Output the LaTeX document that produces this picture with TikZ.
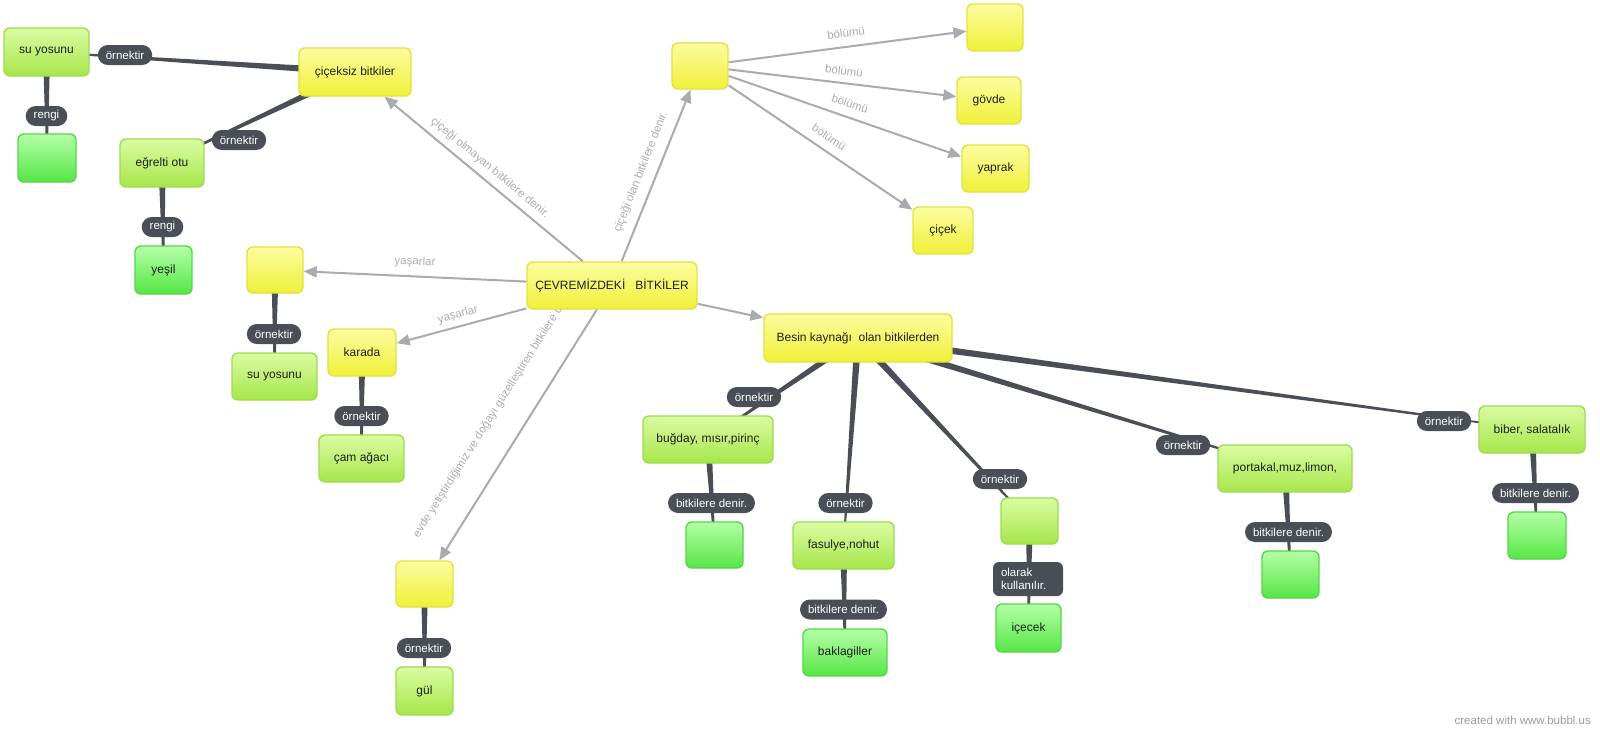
\documentclass[tikz,border=0pt]{standalone}
\usepackage{fontspec}
\setmainfont{Liberation Sans}
\usetikzlibrary{calc,arrows.meta}
\pgfdeclarelayer{bg}
\pgfdeclarelayer{paper}
\pgfsetlayers{paper,bg,main}
\definecolor{linkc}{HTML}{4A4E57}
\definecolor{arrowc}{HTML}{A9ABB1}
\definecolor{lblc}{HTML}{ABADB3}
\definecolor{yelT}{HTML}{FCFCA0}
\definecolor{yelM}{HTML}{F8F870}
\definecolor{yelB}{HTML}{F0F038}
\definecolor{yelD}{HTML}{E2E245}
\definecolor{lgT}{HTML}{DAFCA2}
\definecolor{lgM}{HTML}{C4F47A}
\definecolor{lgB}{HTML}{A6E64A}
\definecolor{lgD}{HTML}{9EDC50}
\definecolor{bgT}{HTML}{B4FFA6}
\definecolor{bgM}{HTML}{86F474}
\definecolor{bgB}{HTML}{56E646}
\definecolor{bgD}{HTML}{56D648}
\definecolor{credc}{HTML}{9A9CA2}
\newcommand\bxfont{\fontsize{12}{14}\selectfont}
\newcommand\plfont{\fontsize{11.5}{13}\selectfont}
\newcommand\lbfont{\fontsize{11.5}{13}\selectfont}
\newcommand\taper[2]{\fill[linkc] ($(#1.center)!3.6pt!90:(#2.center)$) -- ($(#1.center)!3.6pt!-90:(#2.center)$) -- ($(#2.center)!0.7pt!90:(#1.center)$) -- ($(#2.center)!0.7pt!-90:(#1.center)$) -- cycle;}
\tikzset{
  box/.style={rounded corners=6pt, line width=1.4pt, inner sep=0pt, align=center, font=\bxfont, text=black!88},
  sz/.style 2 args={minimum width=#1pt, minimum height=#2pt},
  ybox/.style={box, draw=yelD, top color=yelT, middle color=yelM, bottom color=yelB},
  lgbox/.style={box, draw=lgD, top color=lgT, middle color=lgM, bottom color=lgB},
  gbox/.style={box, draw=bgD, top color=bgT, middle color=bgM, bottom color=bgB},
  pill/.style={fill=linkc, text=white, rounded corners=10pt, minimum height=20pt, inner xsep=8pt, inner ysep=0pt, font=\plfont},
  garrow/.style={draw=arrowc, line width=2pt, -{Triangle[length=13pt,width=11pt]}},
  glabel/.style={text=lblc, font=\lbfont, inner sep=1pt}
}
\begin{document}
\begin{tikzpicture}[x=1pt,y=-1pt]
\useasboundingbox (0,0) rectangle (1600,750);
\begin{pgfonlayer}{paper}
\fill[white] (0,0) rectangle (1600,750);
\end{pgfonlayer}

% yellow nodes
\node[ybox, sz={112}{48}] (ciceksiz) at (355,72) {çiçeksiz bitkiler};
\node[ybox, sz={56}{46}] (yL) at (275,270) {};
\node[ybox, sz={68}{47}] (karada) at (362,352.5) {karada};
\node[ybox, sz={170}{47}] (central) at (612,285.5) {ÇEVREMİZDEKİ\ \ \ BİTKİLER};
\node[ybox, sz={57}{46}] (yG) at (424.5,584) {};
\node[ybox, sz={56}{46}] (topY) at (700,66) {};
\node[ybox, sz={56}{47}] (topR) at (995,27.5) {};
\node[ybox, sz={64}{47}] (govde) at (989,100.5) {gövde};
\node[ybox, sz={67}{47}] (yaprak) at (995.5,168.5) {yaprak};
\node[ybox, sz={60}{47}] (cicek) at (943,230.5) {çiçek};
\node[ybox, sz={188}{48}] (besin) at (858,338) {Besin kaynağı\ \ olan bitkilerden};

% light green nodes
\node[lgbox, sz={85}{48}] (suyos1) at (46.5,52) {su yosunu};
\node[lgbox, sz={84}{48}] (egrelti) at (162,163) {eğrelti otu};
\node[lgbox, sz={85}{47}] (suyos2) at (274.5,376.5) {su yosunu};
\node[lgbox, sz={85}{47}] (cam) at (361.5,458.5) {çam ağacı};
\node[lgbox, sz={57}{48}] (gul) at (424.5,691) {gül};
\node[lgbox, sz={130}{47}] (bugday) at (708,439.5) {buğday, mısır,pirinç};
\node[lgbox, sz={101}{47}] (fasulye) at (843.5,545.5) {fasulye,nohut};
\node[lgbox, sz={57}{46}] (lg3) at (1029.5,521) {};
\node[lgbox, sz={134}{47}] (portakal) at (1285,468.5) {portakal,muz,limon,};
\node[lgbox, sz={106}{47}] (biber) at (1532,429.5) {biber, salatalık};

% bright green nodes
\node[gbox, sz={58}{48}] (g1) at (47,158) {};
\node[gbox, sz={57}{48}] (yesil) at (163.5,270) {yeşil};
\node[gbox, sz={57}{46}] (g2) at (714.5,545) {};
\node[gbox, sz={84}{47}] (bakla) at (845,652.5) {baklagiller};
\node[gbox, sz={65}{48}] (icecek) at (1028.5,628) {içecek};
\node[gbox, sz={57}{47}] (g4) at (1290.5,574.5) {};
\node[gbox, sz={58}{47}] (g5) at (1537,535.5) {};

% link pills
\node[pill] (p1) at (125,55) {örnektir};
\node[pill] (p2) at (239,140) {örnektir};
\node[pill] (r1) at (46.5,116) {rengi};
\node[pill] (r2) at (162.5,227) {rengi};
\node[pill] (p3) at (274,334) {örnektir};
\node[pill] (p4) at (361.5,416) {örnektir};
\node[pill] (p5) at (424,648) {örnektir};
\node[pill] (p6) at (754,397) {örnektir};
\node[pill] (b1) at (711.5,503) {bitkilere denir.};
\node[pill] (p7) at (845.5,503) {örnektir};
\node[pill] (b2) at (843.5,609.5) {bitkilere denir.};
\node[pill] (p8) at (1000,479) {örnektir};
\node[pill, rounded corners=6pt, minimum height=34pt, text width=54pt, align=left] (olarak) at (1028,579) {olarak\\kullanılır.};
\node[pill] (p9) at (1183,445) {örnektir};
\node[pill] (b3) at (1288.5,532) {bitkilere denir.};
\node[pill] (p10) at (1444,421) {örnektir};
\node[pill] (b4) at (1535.5,493) {bitkilere denir.};

% tapered dark connectors (behind)
\begin{pgfonlayer}{bg}
\taper{ciceksiz}{suyos1}
\taper{ciceksiz}{egrelti}
\taper{suyos1}{g1}
\taper{egrelti}{yesil}
\taper{yL}{suyos2}
\taper{karada}{cam}
\taper{yG}{gul}
\taper{besin}{bugday}
\taper{bugday}{g2}
\taper{besin}{fasulye}
\taper{fasulye}{bakla}
\taper{besin}{lg3}
\taper{lg3}{icecek}
\taper{besin}{portakal}
\taper{portakal}{g4}
\taper{besin}{biber}
\taper{biber}{g5}
\node[glabel, anchor=south west, rotate=57.8] (levde) at (421,541) {evde yetiştirdiğimiz ve doğayı güzelleştiren bitkilere denir.};
\end{pgfonlayer}

% grey arrows
\draw[garrow] (central) -- (ciceksiz);
\draw[garrow] (central) -- (topY);
\draw[garrow] (central) -- (yL);
\draw[garrow] (central) -- (karada);
\draw[garrow] (central) -- (yG);
\draw[garrow] (central) -- (besin);
\draw[garrow] (topY) -- (topR);
\draw[garrow] (topY) -- (govde);
\draw[garrow] (topY) -- (yaprak);
\draw[garrow] (topY) -- (cicek);

% grey arrow labels
\node[glabel, rotate=-39.8] (lolm) at (490,168) {çiçeği olmayan bitkilere denir.};
\node[glabel, rotate=68.4] (lola) at (641,172) {çiçeği olan bitkilere denir.};
\node[glabel, rotate=-2] (lyas1) at (415,262) {yaşarlar};
\node[glabel, rotate=14.7] (lyas2) at (458,315) {yaşarlar};
\node[glabel, rotate=7] (lbol1) at (846,33) {bölümü};
\node[glabel, rotate=-6.7] (lbol2) at (844,71) {bölümü};
\node[glabel, rotate=-19] (lbol3) at (850,104) {bölümü};
\node[glabel, rotate=-34] (lbol4) at (829,137) {bölümü};

\node[text=credc, font=\lbfont, anchor=east, inner sep=0pt] (credit) at (1591,720) {created with www.bubbl.us};
\end{tikzpicture}
\end{document}
